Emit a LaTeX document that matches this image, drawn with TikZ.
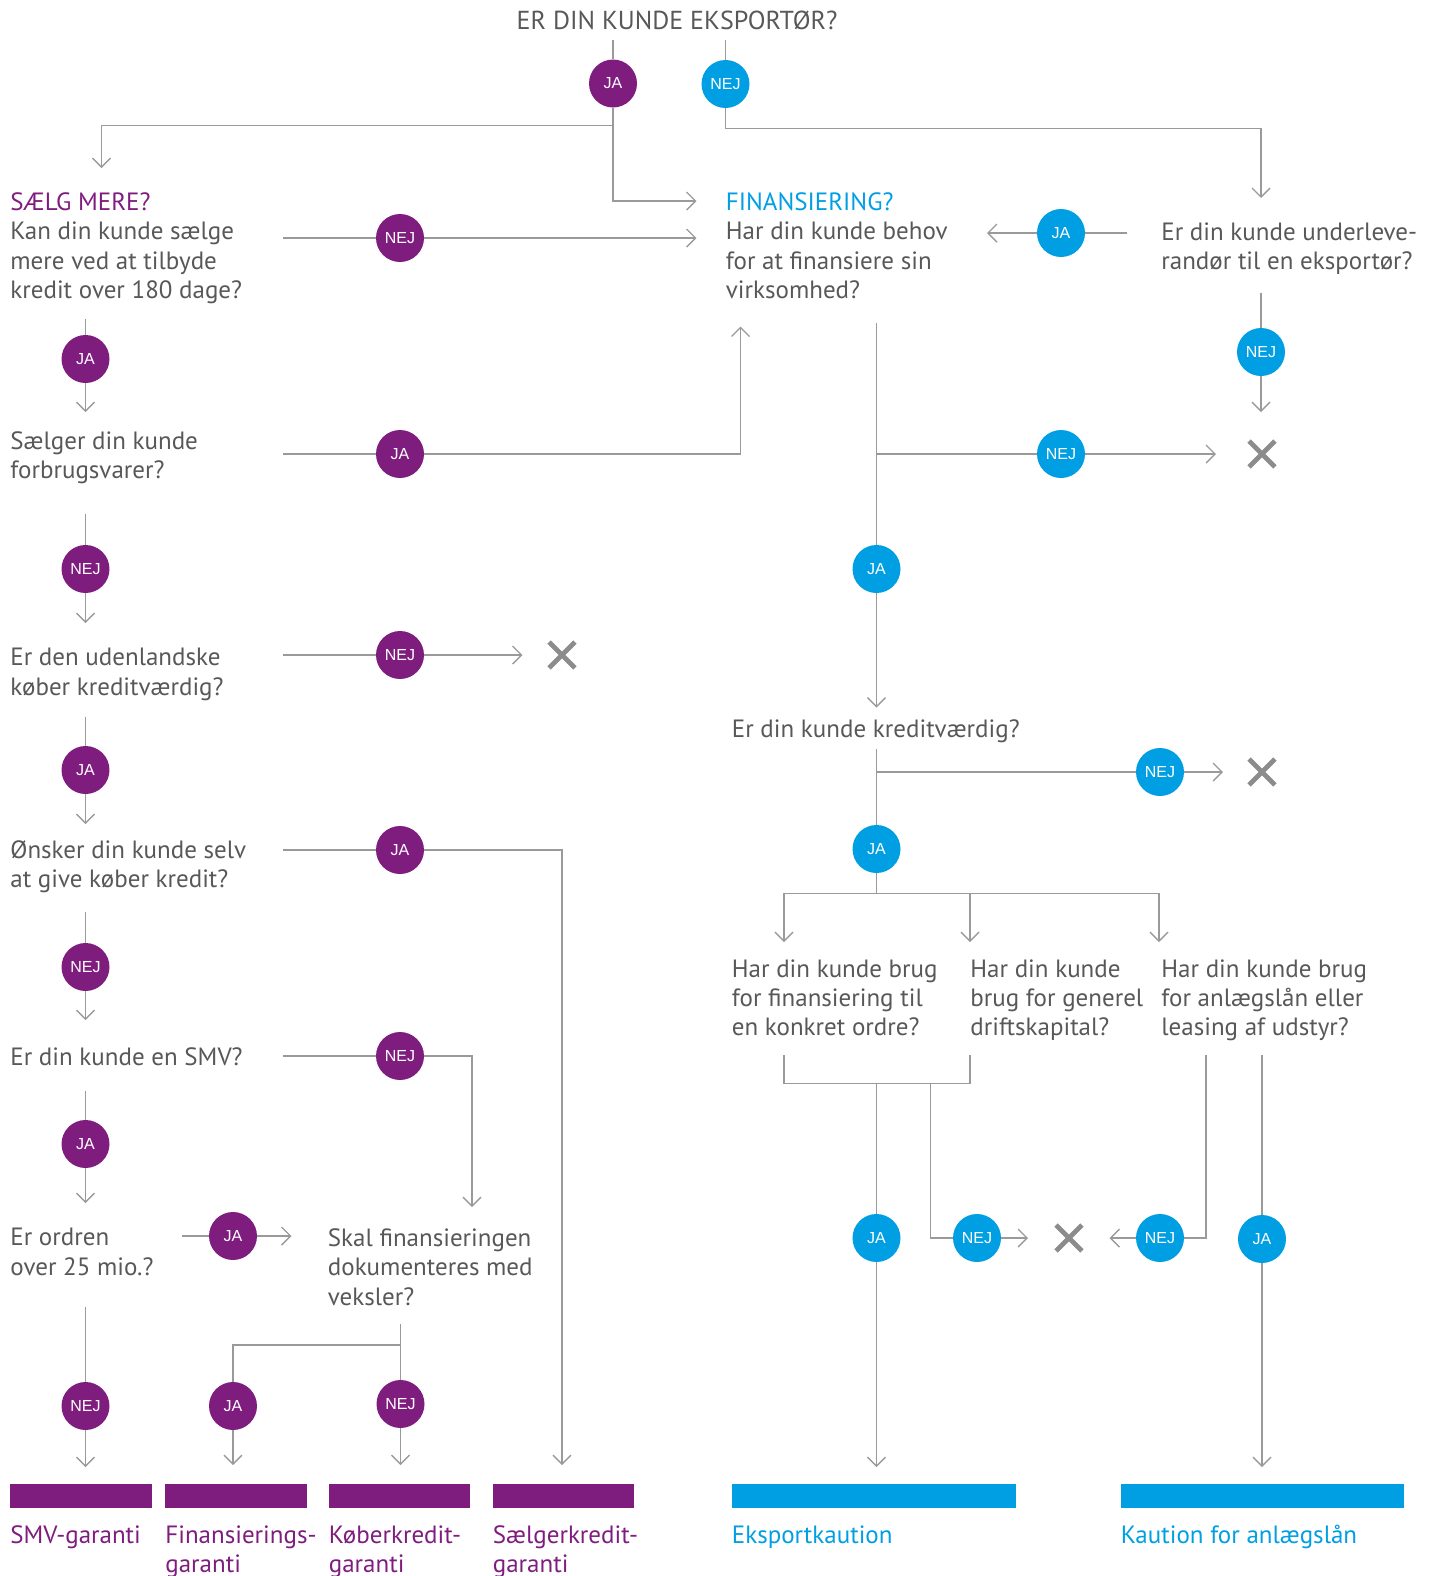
\documentclass[tikz,border=0pt]{standalone}
\usepackage{fontspec}
\setmainfont{PT Sans}
\newfontfamily\cirkelfont{Liberation Sans}
\usetikzlibrary{arrows.meta,shapes.misc}
\definecolor{lila}{HTML}{7F1D7F}
\definecolor{blaa}{HTML}{009FE3}
\definecolor{tekst}{HTML}{585858}
\definecolor{streg}{HTML}{9A9A9A}
\definecolor{kryds}{HTML}{8C8C8C}

\begin{document}
\begin{tikzpicture}[x=0.5pt,y=-0.5pt,
    ln/.style={draw=streg,line width=0.7pt},
    pil/.style={ln,-{Straight Barb[length=4.5pt,width=9pt]}},
    svar/.style={circle,fill=#1,text=white,minimum size=24pt,inner sep=0pt,
        font=\cirkelfont\fontsize{8}{9}\selectfont},
    spm/.style={anchor=north west,inner sep=0pt,align=left,text=tekst,
        font=\fontsize{12.5}{14.7}\selectfont},
    prod/.style={spm,text=#1},
    xx/.style={cross out,draw=kryds,line width=2.4pt,minimum size=10.5pt,inner sep=0pt}]
    \useasboundingbox (0,0) rectangle (1439,1576);

    % spoergsmaal
    \node[spm,anchor=center,font=\fontsize{13}{15}\selectfont] (titel) at (677,20) {ER DIN KUNDE EKSPORTØR?};
    \node[spm] (qSaelg) at (10,192) {{\color{lila}SÆLG MERE?}\\Kan din kunde sælge\\mere ved at tilbyde\\kredit over 180 dage?};
    \node[spm] (qFin) at (725.5,192) {{\color{blaa}FINANSIERING?}\\Har din kunde behov\\for at finansiere sin\\virksomhed?};
    \node[spm] (qUnder) at (1161,222) {Er din kunde underleve-\\randør til en eksportør?};
    \node[spm] (qForbrug) at (10,431) {Sælger din kunde\\forbrugsvarer?};
    \node[spm] (qKredit) at (10,648) {Er den udenlandske\\køber kreditværdig?};
    \node[spm] (qSelv) at (10,840) {Ønsker din kunde selv\\at give køber kredit?};
    \node[spm] (qSmv) at (10,1047) {Er din kunde en SMV?};
    \node[spm] (qOrdre) at (10,1228) {Er ordren\\over 25 mio.?};
    \node[spm] (qVeksler) at (327.5,1228) {Skal finansieringen\\dokumenteres med\\veksler?};
    \node[spm] (qKv) at (731.5,719.5) {Er din kunde kreditværdig?};
    \node[spm] (qOrd) at (731.5,959) {Har din kunde brug\\for finansiering til\\en konkret ordre?};
    \node[spm] (qDrift) at (970,959) {Har din kunde\\brug for generel\\driftskapital?};
    \node[spm] (qAnl) at (1161,959) {Har din kunde brug\\for anlægslån eller\\leasing af udstyr?};

    % svar
    \node[svar=lila] (jaTop) at (613,83.5) {JA};
    \node[svar=blaa] (nejTop) at (725.5,84) {NEJ};
    \node[svar=lila] (sNej) at (400,238) {NEJ};
    \node[svar=lila] (sJa) at (85.5,359) {JA};
    \node[svar=lila] (fJa) at (400,454) {JA};
    \node[svar=lila] (fNej) at (85.5,569) {NEJ};
    \node[svar=lila] (kNej) at (400,655) {NEJ};
    \node[svar=lila] (kJa) at (85.5,770) {JA};
    \node[svar=lila] (oJa) at (400,850) {JA};
    \node[svar=lila] (oNej) at (85.5,967) {NEJ};
    \node[svar=lila] (smvNej) at (400,1056) {NEJ};
    \node[svar=lila] (smvJa) at (85.5,1144) {JA};
    \node[svar=lila] (mJa) at (233,1236) {JA};
    \node[svar=lila] (mNej) at (85.5,1406) {NEJ};
    \node[svar=lila] (vJa) at (233,1406) {JA};
    \node[svar=lila] (vNej) at (400.5,1404) {NEJ};
    \node[svar=blaa] (uJa) at (1061,233) {JA};
    \node[svar=blaa] (uNej) at (1261,352) {NEJ};
    \node[svar=blaa] (finNej) at (1061,454) {NEJ};
    \node[svar=blaa] (finJa) at (876.5,569) {JA};
    \node[svar=blaa] (krNej) at (1160,772) {NEJ};
    \node[svar=blaa] (krJa) at (876.5,849) {JA};
    \node[svar=blaa] (bJa) at (876.5,1238) {JA};
    \node[svar=blaa] (bNej) at (977,1238) {NEJ};
    \node[svar=blaa] (aNej) at (1160,1238) {NEJ};
    \node[svar=blaa] (aJa) at (1262,1239) {JA};

    % afslag
    \node[xx] (x1) at (562,655) {};
    \node[xx] (x2) at (1262,454) {};
    \node[xx] (x3) at (1262,772) {};
    \node[xx] (x4) at (1069,1238) {};

    % punkter
    \coordinate (L) at (282.5,0);
    \coordinate (finA) at (696.5,201);
    \coordinate (finB) at (696.5,238);
    \coordinate (finC) at (740.5,326.5);
    \coordinate (gren1) at (613,125.5);
    \coordinate (saelgA) at (101.5,168);
    \coordinate (gren2) at (725.5,128.5);
    \coordinate (underA) at (1261,198);

    % forbindelser, top
    \draw[ln] (613,40) -- (jaTop);
    \draw[ln] (725.5,40) -- (nejTop);
    \draw[pil] (jaTop) |- (finA);
    \draw[pil] (gren1) -| (saelgA);
    \draw[pil] (nejTop) -- (gren2) -| (underA);

    % venstre side
    \draw[pil] (L |- sNej) -- (sNej) -- (finB);
    \draw[pil] (85.5,318.5) -- (sJa) -- (85.5,412);
    \draw[pil] (L |- fJa) -- (fJa) -| (finC);
    \draw[pil] (85.5,513.5) -- (fNej) -- (85.5,623);
    \draw[pil] (L |- kNej) -- (kNej) -- (522.5,655);
    \draw[pil] (85.5,716.5) -- (kJa) -- (85.5,824);
    \draw[pil] (L |- oJa) -- (oJa) -| (562,1465);
    \draw[pil] (85.5,911.5) -- (oNej) -- (85.5,1020);
    \draw[pil] (L |- smvNej) -- (smvNej) -| (472,1207);
    \draw[pil] (85.5,1090.5) -- (smvJa) -- (85.5,1203);
    \draw[pil] (182,1236) -- (mJa) -- (291.5,1236);
    \draw[pil] (85.5,1306.5) -- (mNej) -- (85.5,1467);
    \draw[ln] (400.5,1324) -- (400.5,1345) -| (vJa);
    \draw[pil] (400.5,1345) -- (vNej) -- (400.5,1465);
    \draw[pil] (vJa) -- (233,1465);

    % hoejre side
    \draw[pil] (1126.5,233) -- (uJa) -- (987,233);
    \draw[pil] (1261,292.5) -- (uNej) -- (1261,412);
    \draw[pil] (876.5,322.5) -- (finJa) -- (876.5,707.5);
    \draw[pil] (876.5,454) -- (finNej) -- (1216,454);
    \draw[pil] (876.5,749) -- (krJa) -- (876.5,893.5) -| (784,942);
    \draw[pil] (876.5,772) -- (krNej) -- (1223,772);
    \draw[pil] (876.5,893.5) -| (1159,942);
    \draw[pil] (970,893.5) -- (970,942);
    \draw[ln] (784,1055) |- (970,1083.5) -- (970,1055);
    \draw[pil] (876.5,1083.5) -- (bJa) -- (876.5,1467);
    \draw[pil] (930.5,1083.5) |- (bNej) -- (1028,1238);
    \draw[pil] (1206,1055) |- (aNej) -- (1109.5,1238);
    \draw[pil] (1262,1055) -- (aJa) -- (1262,1467);

    % produkter
    \fill[lila] (10,1483.5) rectangle (152,1507.5);
    \fill[lila] (165,1483.5) rectangle (306.5,1507.5);
    \fill[lila] (328.5,1483.5) rectangle (470,1507.5);
    \fill[lila] (492.5,1483.5) rectangle (634,1507.5);
    \fill[blaa] (731.5,1483.5) rectangle (1016,1507.5);
    \fill[blaa] (1120.5,1483.5) rectangle (1404,1507.5);
    \node[prod=lila] (p1) at (10,1525) {SMV-garanti};
    \node[prod=lila] (p2) at (165,1525) {Finansierings-\\garanti};
    \node[prod=lila] (p3) at (328.5,1525) {Køberkredit-\\garanti};
    \node[prod=lila] (p4) at (492.5,1525) {Sælgerkredit-\\garanti};
    \node[prod=blaa] (p5) at (731.5,1525) {Eksportkaution};
    \node[prod=blaa] (p6) at (1120.5,1525) {Kaution for anlægslån};
\end{tikzpicture}
\end{document}
